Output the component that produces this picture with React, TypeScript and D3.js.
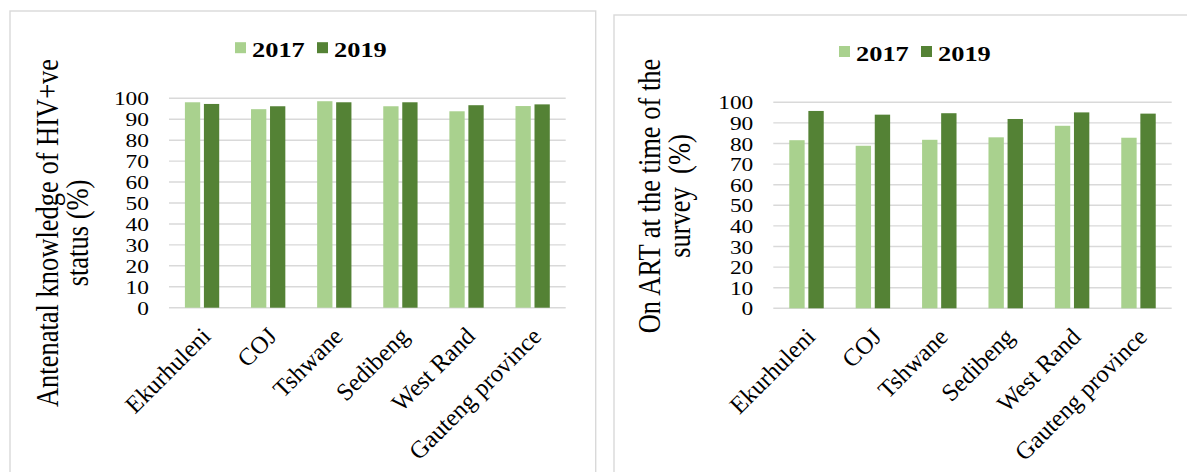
import React from 'react';
import * as d3 from 'd3';

const categories = ['Ekurhuleni', 'COJ', 'Tshwane', 'Sedibeng', 'West Rand', 'Gauteng province'];
const seriesNames = ['2017', '2019'];
const knowledge2017 = [98.1, 94.8, 98.6, 96.2, 93.8, 96.3];
const knowledge2019 = [97.3, 96.2, 98.1, 98.1, 96.7, 97.1];
const art2017 = [81.6, 78.9, 81.8, 83.0, 88.6, 82.8];
const art2019 = [95.8, 94.0, 94.7, 91.9, 95.1, 94.5];
const yTicks = [0, 10, 20, 30, 40, 50, 60, 70, 80, 90, 100];
const leftTitle = ['Antenatal knowledge of HIV+ve', 'status (%)'];
const rightTitle = ['On ART at the time of the', 'survey  (%)'];

const COLORS = ['#A9D18E', '#548235'];
const GRID = '#d9d9d9';
const FONT = '"Liberation Serif", "Times New Roman", serif';
const SX = 1.2;

type PanelProps = {
  values: number[][];
  title: string[];
  frame: { x: number; y: number; w: number; h: number };
  plot: { x0: number; x1: number; yTop: number; yBottom: number };
  titleBase: [number, number];
  titleCenter: number;
  legend: { x: number; y: number };
};

function Panel({ values, title, frame, plot, titleBase, titleCenter, legend }: PanelProps) {
  const x0 = d3.scaleBand<string>().domain(categories).range([plot.x0, plot.x1]).paddingInner(0).paddingOuter(0);
  const x1 = d3
    .scaleBand<string>()
    .domain(seriesNames)
    .range([0, x0.bandwidth()])
    .paddingInner(0.195)
    .paddingOuter(0.837);
  const y = d3.scaleLinear().domain([0, 100]).range([plot.yBottom, plot.yTop]);

  return (
    <g>
      <rect x={frame.x} y={frame.y} width={frame.w} height={frame.h} fill="#fff" stroke={GRID} strokeWidth={1.4} />
      {/* legend */}
      {seriesNames.map((s, i) => {
        const lx = legend.x + i * 82;
        return (
          <g key={s}>
            <rect x={lx} y={legend.y - 14.5} width={11} height={11} fill={COLORS[i]} />
            <text
              transform={`translate(${lx + 17},${legend.y}) scale(${SX},1)`}
              fontFamily={FONT}
              fontSize={22}
              fontWeight="bold"
              fill="#000"
            >
              {s}
            </text>
          </g>
        );
      })}
      {/* gridlines */}
      {yTicks.map((t) => (
        <line key={t} x1={plot.x0} x2={plot.x1} y1={y(t)} y2={y(t)} stroke={GRID} strokeWidth={1.4} />
      ))}
      {/* tick labels */}
      {yTicks.map((t) => (
        <text
          key={'l' + t}
          transform={`translate(${plot.x0 - 20},${y(t) + 7}) scale(${SX},1)`}
          textAnchor="end"
          fontFamily={FONT}
          fontSize={19.5}
          fill="#000"
        >
          {t}
        </text>
      ))}
      {/* bars */}
      {categories.map((c, ci) => (
        <g key={c} transform={`translate(${x0(c)},0)`}>
          {seriesNames.map((s, si) => (
            <rect
              key={s}
              x={x1(s)}
              y={y(values[si][ci])}
              width={x1.bandwidth()}
              height={y(0) - y(values[si][ci])}
              fill={COLORS[si]}
            />
          ))}
        </g>
      ))}
      {/* category labels */}
      {categories.map((c) => {
        const cx = (x0(c) as number) + x0.bandwidth() / 2;
        return (
          <text
            key={'c' + c}
            transform={`translate(${cx + 10},${plot.yBottom + 30}) rotate(-45)`}
            textAnchor="end"
            fontFamily={FONT}
            fontSize={24.5}
            fill="#000"
          >
            {c}
          </text>
        );
      })}
      {/* y title */}
      {title.map((line, i) => (
        <text
          key={'t' + i}
          transform={`translate(${titleBase[i]},${titleCenter}) scale(${SX},1) rotate(-90)`}
          textAnchor="middle"
          fontFamily={FONT}
          fontSize={26.5}
          fill="#000"
          style={{ whiteSpace: 'pre' }}
        >
          {line}
        </text>
      ))}
    </g>
  );
}

export default function App() {
  return (
    <svg
      width={1187}
      height={472}
      style={{ position: 'absolute', left: 0, top: 0, background: '#fff' }}
    >
      <rect x={0} y={0} width={1187} height={472} fill="#fff" />
      <Panel
        values={[knowledge2017, knowledge2019]}
        title={leftTitle}
        frame={{ x: 10, y: 11, w: 585.7, h: 520 }}
        plot={{ x0: 169, x1: 565.7, yTop: 98.3, yBottom: 307.7 }}
        titleBase={[58, 88]}
        titleCenter={233}
        legend={{ x: 235, y: 56.7 }}
      />
      <Panel
        values={[art2017, art2019]}
        title={rightTitle}
        frame={{ x: 614, y: 15, w: 620, h: 520 }}
        plot={{ x0: 773.3, x1: 1171.7, yTop: 102.3, yBottom: 308.3 }}
        titleBase={[660, 690]}
        titleCenter={196}
        legend={{ x: 839, y: 60.5 }}
      />
    </svg>
  );
}
